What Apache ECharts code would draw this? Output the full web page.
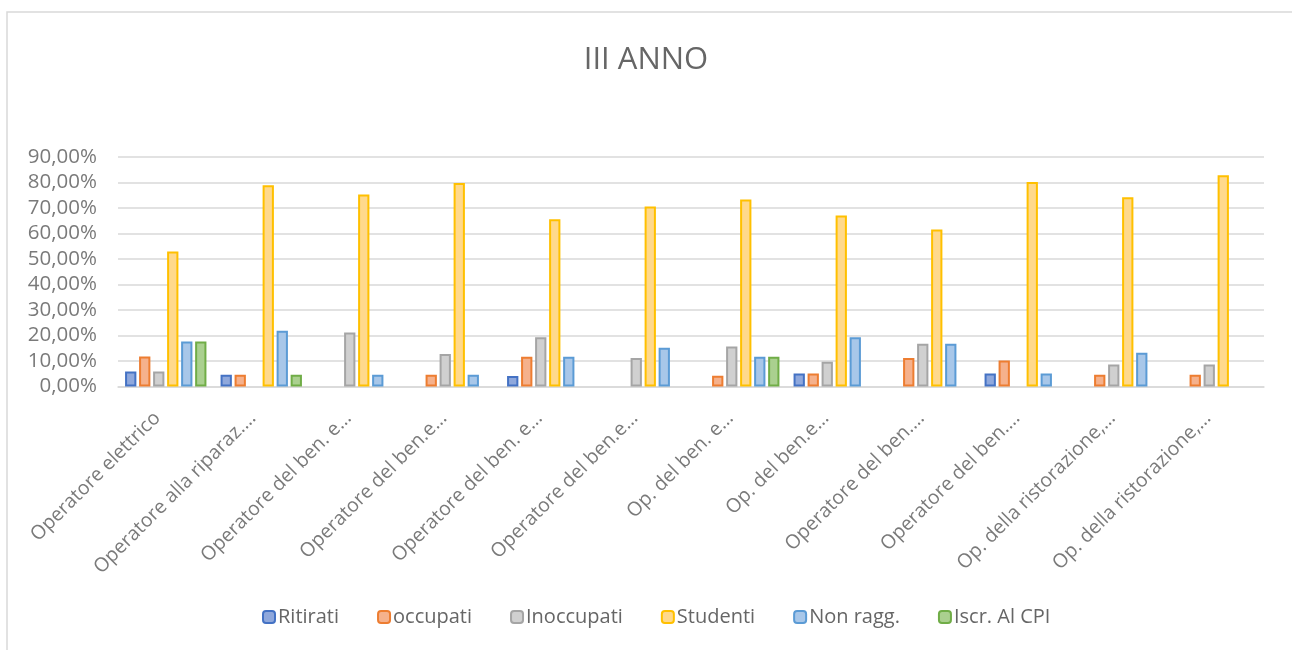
<!DOCTYPE html>
<html>
<head>
<meta charset="utf-8">
<script src="https://cdn.jsdelivr.net/npm/echarts@6/dist/echarts.min.js"></script>
<style>
html,body{margin:0;padding:0;background:#fff;}
#chart{width:1292px;height:650px;}
</style>
</head>
<body>
<div id="chart"></div>
<script>
const categories = [
  "Operatore elettrico",
  "Operatore alla riparaz.…",
  "Operatore del ben. e…",
  "Operatore del ben.e…",
  "Operatore del ben. e…",
  "Operatore del ben.e…",
  "Op. del ben. e…",
  "Op. del ben.e…",
  "Operatore del ben.…",
  "Operatore del ben.…",
  "Op. della ristorazione,…",
  "Op. della ristorazione,…"
];
const seriesNames = ["Ritirati", "occupati", "Inoccupati", "Studenti", "Non ragg.", "Iscr. Al CPI"];
const ritirati   = [5.88, 4.6, null, null, 4.1, null, null, 5.1, null, 5.1, null, null];
const occupati   = [11.76, 4.6, null, 4.6, 11.7, null, 4.2, 5.1, 11.2, 10.2, 4.6, 4.6];
const inoccupati = [5.88, null, 21.2, 12.7, 19.3, 11.2, 15.7, 9.7, 16.8, null, 8.6, 8.6];
const studenti   = [52.94, 78.9, 75.3, 79.8, 65.6, 70.6, 73.3, 67.1, 61.6, 80.2, 74.2, 82.8];
const nonRagg    = [17.65, 21.9, 4.6, 4.6, 11.7, 15.2, 11.7, 19.3, 16.8, 5.1, 13.2, null];
const iscrCPI    = [17.65, 4.6, null, null, null, null, 11.7, null, null, null, null, null];
const yTicks = [0, 10, 20, 30, 40, 50, 60, 70, 80, 90];

const borderColors = ["#4472C4", "#ED7D31", "#A5A5A5", "#FFC000", "#5B9BD5", "#70AD47"];
const fillColors   = ["#8FA8DC", "#F5B18C", "#D0D0D0", "#FFD98C", "#A8C7E9", "#AAD08F"];
const allData = [ritirati, occupati, inoccupati, studenti, nonRagg, iscrCPI];

const FONT = "Open Sans";
const chart = echarts.init(document.getElementById('chart'));
chart.setOption({
  animation: false,
  backgroundColor: '#fff',
  graphic: [{
    type: 'rect',
    shape: { x: 7, y: 12, width: 1320, height: 700 },
    style: { fill: 'none', stroke: '#d9d9d9', lineWidth: 1.5 },
    silent: true
  }],
  title: {
    text: 'III ANNO',
    left: 'center',
    top: 37,
    textStyle: { fontFamily: FONT, fontSize: 31, fontWeight: 'normal', color: '#666666', lineHeight: 36 }
  },
  legend: {
    bottom: 18,
    left: 257,
    itemWidth: 12,
    itemHeight: 12,
    itemGap: 38,
    data: seriesNames,
    textStyle: { fontFamily: FONT, fontSize: 20, color: '#666666', padding: [0, 0, 0, -2] }
  },
  grid: { left: 118, right: 28, top: 157, bottom: 263.5, containLabel: false },
  xAxis: {
    type: 'category',
    data: categories,
    axisLine: { lineStyle: { color: '#d9d9d9', width: 1.5 } },
    axisTick: { show: false },
    axisLabel: {
      rotate: 45,
      interval: 0,
      margin: 20,
      padding: [0, 12, 0, 0],
      fontFamily: FONT,
      fontSize: 19.5,
      color: '#7a7a7a'
    }
  },
  yAxis: {
    type: 'value',
    min: yTicks[0],
    max: yTicks[yTicks.length - 1],
    interval: 10,
    axisLine: { show: false },
    axisTick: { show: false },
    splitLine: { lineStyle: { color: '#d9d9d9', width: 1.5 } },
    axisLabel: {
      margin: 21,
      fontFamily: FONT,
      fontSize: 20.5,
      color: '#7a7a7a',
      formatter: v => v.toFixed(2).replace('.', ',') + '%'
    }
  },
  series: seriesNames.map((name, i) => ({
    name: name,
    type: 'bar',
    data: allData[i].map(v => v === null ? '-' : v),
    barWidth: 11.3,
    barGap: '24%',
    itemStyle: { color: fillColors[i], borderColor: borderColors[i], borderWidth: 2 }
  }))
});
</script>
</body>
</html>
